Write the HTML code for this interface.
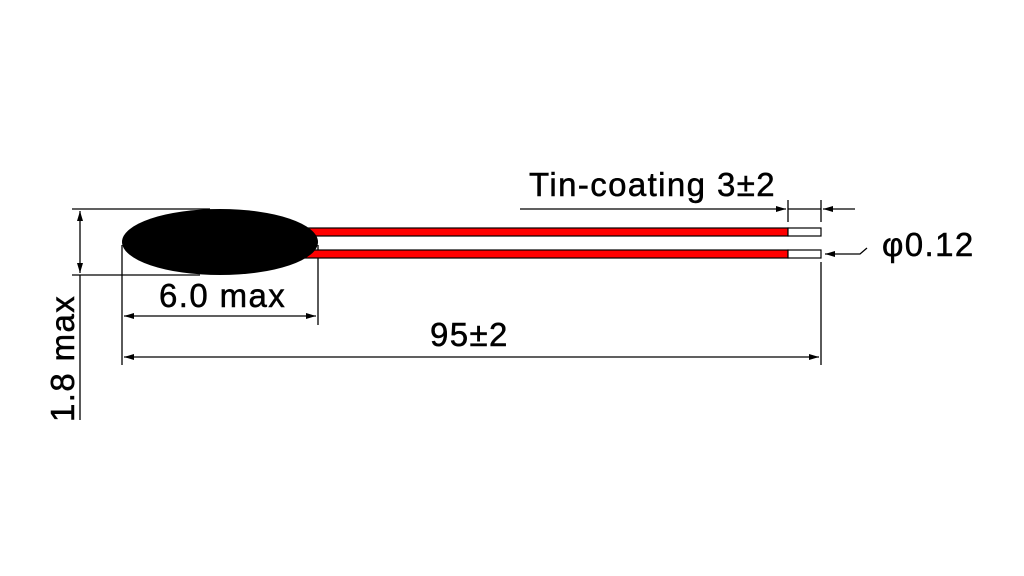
<!DOCTYPE html>
<html><head><style>body{margin:0;background:#fff}svg{display:block}</style></head><body>
<svg width="1024" height="576" xmlns="http://www.w3.org/2000/svg" font-family="Liberation Sans, sans-serif">
<defs><marker id="a" viewBox="0 0 10 6" refX="10" refY="3" markerWidth="10" markerHeight="6" orient="auto-start-reverse" markerUnits="userSpaceOnUse"><path d="M0,0L10,3L0,6z" fill="#000"/></marker></defs>
<g stroke="#000" stroke-width="1.3" fill="none">
<line x1="72" y1="209" x2="210" y2="209"/>
<line x1="72" y1="275" x2="200" y2="275"/>
<line x1="80" y1="211" x2="80" y2="273" marker-start="url(#a)" marker-end="url(#a)"/>
<line x1="80" y1="275" x2="80" y2="420"/>
<line x1="122" y1="245" x2="122" y2="365"/>
<line x1="318" y1="245" x2="318" y2="325"/>
<line x1="124" y1="316" x2="316" y2="316" marker-start="url(#a)" marker-end="url(#a)"/>
<line x1="124" y1="357" x2="819" y2="357" marker-start="url(#a)" marker-end="url(#a)"/>
<line x1="821" y1="262" x2="821" y2="365"/>
<line x1="788" y1="200" x2="788" y2="222"/>
<line x1="821" y1="200" x2="821" y2="222"/>
<line x1="520" y1="209" x2="786" y2="209" marker-end="url(#a)"/>
<line x1="788" y1="209" x2="821" y2="209"/>
<line x1="855" y1="209" x2="823" y2="209" marker-end="url(#a)"/>
<polyline points="867,248 860,254 825,254" marker-end="url(#a)"/>
</g>
<g stroke="#000" stroke-width="1.2">
<rect x="300" y="228" width="488" height="8" fill="#f00"/>
<rect x="300" y="250" width="488" height="8" fill="#f00"/>
<rect x="788" y="228" width="33" height="8" fill="#fff"/>
<rect x="788" y="250" width="33" height="8" fill="#fff"/>
</g>
<ellipse cx="220" cy="242" rx="98" ry="33" fill="#000"/>
<g font-size="33" fill="#000" stroke="#000" stroke-width="0.5" letter-spacing="1.4">
<text x="529" y="196">Tin-coating 3±2</text>
<text x="882" y="256">φ0.12</text>
<text x="159" y="307">6.0 max</text>
<text x="430" y="346">95±2</text>
<text transform="translate(74,422) rotate(-90)">1.8 max</text>
</g>
</svg>
</body></html>
